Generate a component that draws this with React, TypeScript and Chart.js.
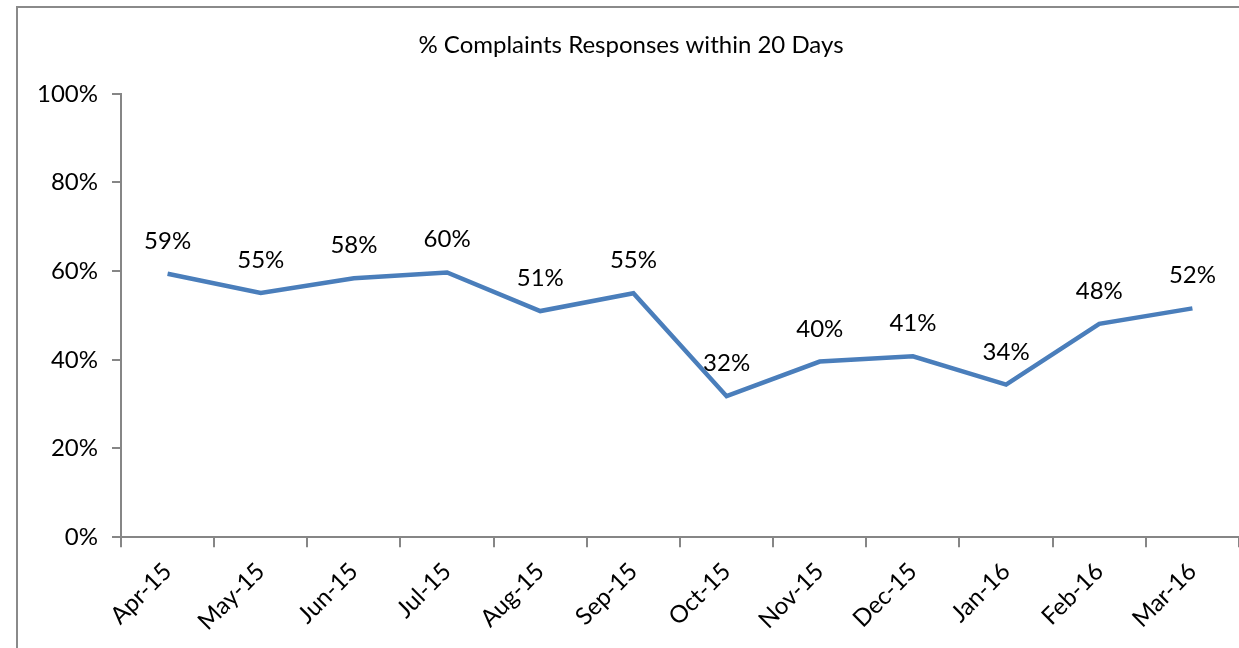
import React, { useEffect, useRef } from "react";
import { Chart, registerables } from "chart.js";

Chart.register(...registerables);

const months = ["Apr-15", "May-15", "Jun-15", "Jul-15", "Aug-15", "Sep-15", "Oct-15", "Nov-15", "Dec-15", "Jan-16", "Feb-16", "Mar-16"];
const responseRate = [59.4, 55.1, 58.4, 59.7, 51.0, 55.0, 31.8, 39.6, 40.8, 34.4, 48.1, 51.6];
const yTicks = [0, 20, 40, 60, 80, 100];
const titleText = "% Complaints Responses within 20 Days";

const FONT = "Lato";
const AXIS = "#868686";

const labelPlugin = {
  id: "pointLabels",
  afterDatasetsDraw(chart: any) {
    const ctx = chart.ctx;
    const meta = chart.getDatasetMeta(0);
    const data = chart.data.datasets[0].data as number[];
    ctx.save();
    ctx.font = `24px ${FONT}`;
    ctx.fillStyle = "#000";
    ctx.textAlign = "center";
    ctx.textBaseline = "alphabetic";
    meta.data.forEach((pt: any, i: number) => {
      ctx.fillText(Math.round(data[i]) + "%", pt.x, pt.y - 25);
    });
    ctx.restore();
  },
};

export default function App() {
  const ref = useRef<HTMLCanvasElement>(null);
  useEffect(() => {
    if (!ref.current) return;
    const chart = new Chart(ref.current, {
      type: "line",
      data: {
        labels: months,
        datasets: [
          {
            data: responseRate,
            borderColor: "#4A7EBB",
            borderWidth: 4.5,
            pointRadius: 0,
            tension: 0,
            fill: false,
          },
        ],
      },
      options: {
        animation: false,
        responsive: false,
        layout: { padding: { top: 10, left: 23, right: 0, bottom: 2 } },
        plugins: {
          legend: { display: false },
          tooltip: { enabled: false },
          title: {
            display: true,
            text: titleText,
            color: "#000",
            font: { family: FONT, size: 24, weight: "normal" },
            padding: { top: 21, bottom: 34 },
          },
        },
        scales: {
          x: {
            offset: true,
            grid: { display: true, drawOnChartArea: false, drawTicks: true, tickLength: 10, offset: true, color: AXIS, lineWidth: 2 },
            border: { display: true, color: AXIS, width: 2 },
            ticks: { color: "#000", font: { family: FONT, size: 24 }, maxRotation: 45, minRotation: 45, padding: 10, autoSkip: false },
          },
          y: {
            min: 0,
            max: 100,
            afterBuildTicks: (axis: any) => {
              axis.ticks = yTicks.map((v) => ({ value: v }));
            },
            grid: { display: true, drawOnChartArea: false, drawTicks: true, tickLength: 9, color: AXIS, lineWidth: 2 },
            border: { display: true, color: AXIS, width: 2 },
            ticks: { color: "#000", font: { family: FONT, size: 24 }, padding: 14, callback: (v: any) => v + "%" },
          },
        },
      },
      plugins: [labelPlugin],
    });
    return () => chart.destroy();
  }, []);
  return (
    <div style={{ position: "fixed", left: 0, top: 0, width: 1239, height: 648, overflow: "hidden", background: "#fff" }}>
      <div style={{ position: "absolute", left: 16, top: 6, width: 1300, height: 700, borderLeft: "2px solid #8a8a8a", borderTop: "2px solid #8a8a8a" }} />
      <canvas ref={ref} width={1239} height={648} style={{ position: "absolute", left: 0, top: 0 }} />
    </div>
  );
}
